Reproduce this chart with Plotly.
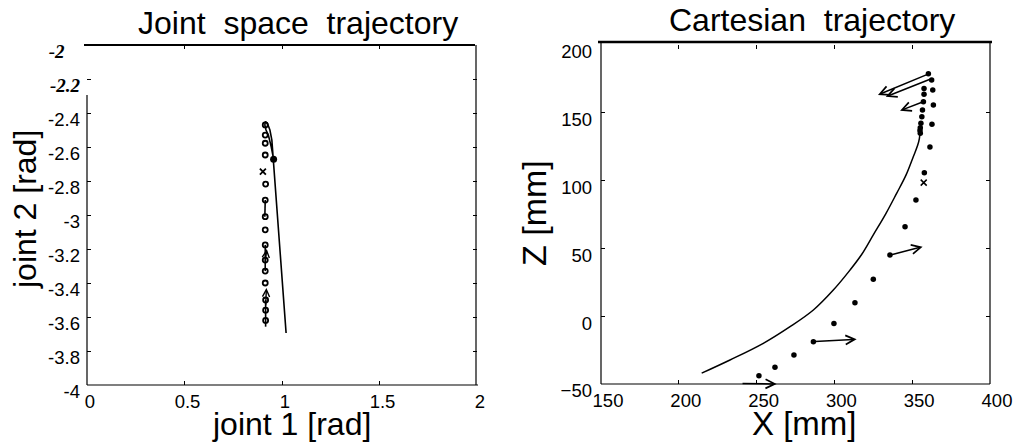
import plotly.graph_objects as go

W, H = 1014, 443

# ---------------- Left panel data (joint space) ----------------
joint_ref_x = [1.021, 0.958, 0.955, 0.948, 0.938, 0.925, 0.915, 0.912, 0.918, 0.93, 0.945, 0.955]
joint_ref_y = [-3.694, -2.676, -2.62, -2.56, -2.5, -2.46, -2.45, -2.47, -2.5, -2.53, -2.6, -2.66]

joint_blob_x = [0.957]
joint_blob_y = [-2.672]

joint_dots_x = [0.914, 0.914, 0.914, 0.914, 0.916, 0.914, 0.914, 0.914, 0.914, 0.914,
                0.914, 0.914, 0.916, 0.916, 0.916]
joint_dots_y = [-2.47, -2.53, -2.578, -2.647, -2.818, -2.912, -3.01, -3.087, -3.176, -3.265,
                -3.33, -3.40, -3.50, -3.56, -3.62]

joint_seg_x = [0.914, 0.912, None, 0.914, 0.914, None, 0.916, 0.916]
joint_seg_y = [-2.912, -3.01, None, -3.176, -3.33, None, -3.5, -3.657]

joint_cross_x = [0.902]
joint_cross_y = [-2.745]

joint_arrow_x0 = [0.914, 0.916]
joint_arrow_y0 = [-3.28, -3.54]
joint_arrow_x1 = [0.922, 0.92]
joint_arrow_y1 = [-3.20, -3.43]

# ---------------- Right panel data (Cartesian) ----------------
cart_ref_x = [214.7, 232.9, 254.3, 271.5, 286.5, 299.3, 310.0, 317.5, 325.0, 333.0, 340.0,
              346.0, 350.7, 353.5, 354.6, 355.0, 355.3]
cart_ref_z = [-42.0, -32.3, -20.0, -7.7, 4.6, 19.3, 34.0, 45.5, 60.0, 75.5, 90.6,
              104.0, 117.6, 126.0, 131.0, 135.5, 140.0]

cart_dots_x = [251.5, 261.8, 274.0, 286.5, 299.7, 313.2, 325.0, 335.7, 345.4, 352.4, 357.8,
               361.4, 362.7, 363.6, 363.2, 362.5, 360.4]
cart_dots_z = [-44.0, -37.7, -28.6, -18.8, -5.3, 10.0, 27.2, 45.1, 66.0, 85.7, 105.8,
               124.8, 141.5, 155.8, 166.8, 174.2, 178.8]

cart_inner_x = [357.6, 357.6, 357.2, 356.6, 356.2, 355.6, 355.2, 355.0, 355.2]
cart_inner_z = [168.0, 163.6, 158.2, 152.0, 147.1, 142.3, 139.0, 137.0, 135.0]

cart_cross_x = [357.4]
cart_cross_z = [98.5]

cart_arrow_x0 = [360.4, 362.0, 357.2, 335.7, 286.5, 240.0]
cart_arrow_z0 = [178.6, 175.0, 158.2, 45.1, -18.8, -49.6]
cart_arrow_x1 = [328.0, 333.0, 342.2, 356.7, 314.3, 262.9]
cart_arrow_z1 = [163.2, 161.8, 151.6, 51.3, -17.0, -50.0]

# ---------------- Axis text ----------------
left_title = "Joint&nbsp; space&nbsp; trajectory"
right_title = "Cartesian&nbsp; trajectory"
left_xlabel = "joint 1 [rad]"
left_ylabel = "joint 2 [rad]"
right_xlabel = "X [mm]"
right_ylabel = "Z [mm]"

SERIF = "<span style=\"font-family:Liberation Serif;font-weight:bold;font-size:19px\"><i>{}</i></span>"
left_xticks = [0, 0.5, 1, 1.5, 2]
left_xtext = ["0", "0.5", "1", "1.5", "2"]
left_yticks = [-4, -3.8, -3.6, -3.4, -3.2, -3, -2.8, -2.6, -2.4, -2.2, -2]
left_ytext = ["-4", "-3.8", "-3.6", "-3.4", "-3.2", "-3", "-2.8", "-2.6", "-2.4",
              SERIF.format("-2.2"), SERIF.format("-2") + "&nbsp;&nbsp;&nbsp;"]
right_xticks = [150, 200, 250, 300, 350, 400]
right_yticks = [-50, 0, 50, 100, 150, 200]

FONT = "Liberation Sans, Arial, sans-serif"

def px(x):
    return x / W

def py(y):
    return 1 - y / H

fig = go.Figure()

# left panel traces
fig.add_trace(go.Scatter(x=joint_ref_x, y=joint_ref_y, mode="lines",
                         line=dict(color="black", width=1.6), xaxis="x", yaxis="y"))
fig.add_trace(go.Scatter(x=joint_seg_x, y=joint_seg_y, mode="lines",
                         line=dict(color="black", width=1.6), xaxis="x", yaxis="y"))
fig.add_trace(go.Scatter(x=joint_dots_x, y=joint_dots_y, mode="markers",
                         marker=dict(symbol="circle-open", size=5, color="black",
                                     line=dict(width=1.8, color="black")),
                         xaxis="x", yaxis="y"))
fig.add_trace(go.Scatter(x=joint_blob_x, y=joint_blob_y, mode="markers",
                         marker=dict(symbol="circle", size=7, color="black"),
                         xaxis="x", yaxis="y"))
fig.add_trace(go.Scatter(x=joint_cross_x, y=joint_cross_y, mode="markers",
                         marker=dict(symbol="x-thin", size=6, color="black",
                                     line=dict(width=1.8, color="black")),
                         xaxis="x", yaxis="y"))

# right panel traces
fig.add_trace(go.Scatter(x=cart_ref_x, y=cart_ref_z, mode="lines", line_shape="spline",
                         line=dict(color="black", width=1.5), xaxis="x2", yaxis="y2"))
fig.add_trace(go.Scatter(x=cart_dots_x, y=cart_dots_z, mode="markers",
                         marker=dict(symbol="circle", size=5.5, color="black"),
                         xaxis="x2", yaxis="y2"))
fig.add_trace(go.Scatter(x=cart_inner_x, y=cart_inner_z, mode="markers",
                         marker=dict(symbol="circle", size=5.5, color="black"),
                         xaxis="x2", yaxis="y2"))
fig.add_trace(go.Scatter(x=cart_cross_x, y=cart_cross_z, mode="markers",
                         marker=dict(symbol="x-thin", size=6, color="black",
                                     line=dict(width=1.5, color="black")),
                         xaxis="x2", yaxis="y2"))

annotations = []
for x0, y0, x1, y1 in zip(joint_arrow_x0, joint_arrow_y0, joint_arrow_x1, joint_arrow_y1):
    annotations.append(dict(x=x1, y=y1, ax=x0, ay=y0, xref="x", yref="y",
                            axref="x", ayref="y", showarrow=True, text="",
                            arrowhead=5, arrowsize=1, arrowwidth=1.4, arrowcolor="black"))
for x0, y0, x1, y1 in zip(cart_arrow_x0, cart_arrow_z0, cart_arrow_x1, cart_arrow_z1):
    annotations.append(dict(x=x1, y=y1, ax=x0, ay=y0, xref="x2", yref="y2",
                            axref="x2", ayref="y2", showarrow=True, text="",
                            arrowhead=5, arrowsize=1.2, arrowwidth=1.5, arrowcolor="black"))

def txt(s, x, y, size, angle=0):
    return dict(text=s, x=px(x), y=py(y), xref="paper", yref="paper", showarrow=False,
                xanchor="center", yanchor="middle", textangle=angle,
                font=dict(family=FONT, size=size, color="black"))

annotations += [
    txt(left_title, 298, 23, 32),
    txt(right_title, 812, 20, 32),
    txt(left_xlabel, 291, 424, 32),
    txt(left_ylabel, 25, 210, 32, -90),
    txt(right_xlabel, 804, 423, 33),
    txt(right_ylabel, 534, 213, 34, -90),
]

shapes = [
    # left panel frame
    dict(type="line", xref="paper", yref="paper", x0=px(84), x1=px(475), y0=py(45), y1=py(45),
         line=dict(color="black", width=2.2)),
    dict(type="line", xref="paper", yref="paper", x0=px(87), x1=px(87), y0=py(95), y1=py(385),
         line=dict(color="black", width=1.2)),
    dict(type="line", xref="paper", yref="paper", x0=px(87), x1=px(478), y0=py(385), y1=py(385),
         line=dict(color="black", width=1.2)),
    dict(type="line", xref="paper", yref="paper", x0=px(476), x1=px(476), y0=py(45), y1=py(385),
         line=dict(color="black", width=1.2)),
    # right panel frame
    dict(type="line", xref="paper", yref="paper", x0=px(598), x1=px(992), y0=py(42), y1=py(42),
         line=dict(color="black", width=2.6)),
    dict(type="line", xref="paper", yref="paper", x0=px(601), x1=px(601), y0=py(43), y1=py(384),
         line=dict(color="black", width=1.2)),
    dict(type="line", xref="paper", yref="paper", x0=px(601), x1=px(990), y0=py(384), y1=py(384),
         line=dict(color="black", width=1.2)),
    dict(type="line", xref="paper", yref="paper", x0=px(990), x1=px(990), y0=py(42), y1=py(384),
         line=dict(color="black", width=1.2)),
]

tickfont = dict(family=FONT, size=18.5, color="black")
common = dict(showgrid=False, zeroline=False, showline=False, ticks="inside", ticklen=4,
              tickwidth=1, tickcolor="black", mirror="ticks", tickfont=tickfont,
              fixedrange=True, automargin=False)

fig.update_layout(
    width=W, height=H, margin=dict(l=0, r=0, t=0, b=0, pad=0, autoexpand=False),
    paper_bgcolor="white", plot_bgcolor="white", showlegend=False,
    xaxis=dict(domain=[px(87), px(477)], range=[0, 2], tickmode="array",
               tickvals=left_xticks, ticktext=left_xtext, anchor="y",
               ticklabelshift=3, ticklabelstandoff=3, **common),
    yaxis=dict(domain=[py(385), py(45)], range=[-4, -2], tickmode="array",
               tickvals=left_yticks, ticktext=left_ytext, anchor="x",
               ticklabelshift=7, ticklabelstandoff=6, **common),
    xaxis2=dict(domain=[px(601), px(990)], range=[150, 400], tickmode="array",
                tickvals=right_xticks, anchor="y2",
                ticklabelshift=7, ticklabelstandoff=3, **common),
    yaxis2=dict(domain=[py(384), py(45)], range=[-50, 200], tickmode="array",
                tickvals=right_yticks, anchor="x2",
                ticklabelshift=7, ticklabelstandoff=8, **common),
    annotations=annotations,
    shapes=shapes,
)

fig.write_html("out.html")
